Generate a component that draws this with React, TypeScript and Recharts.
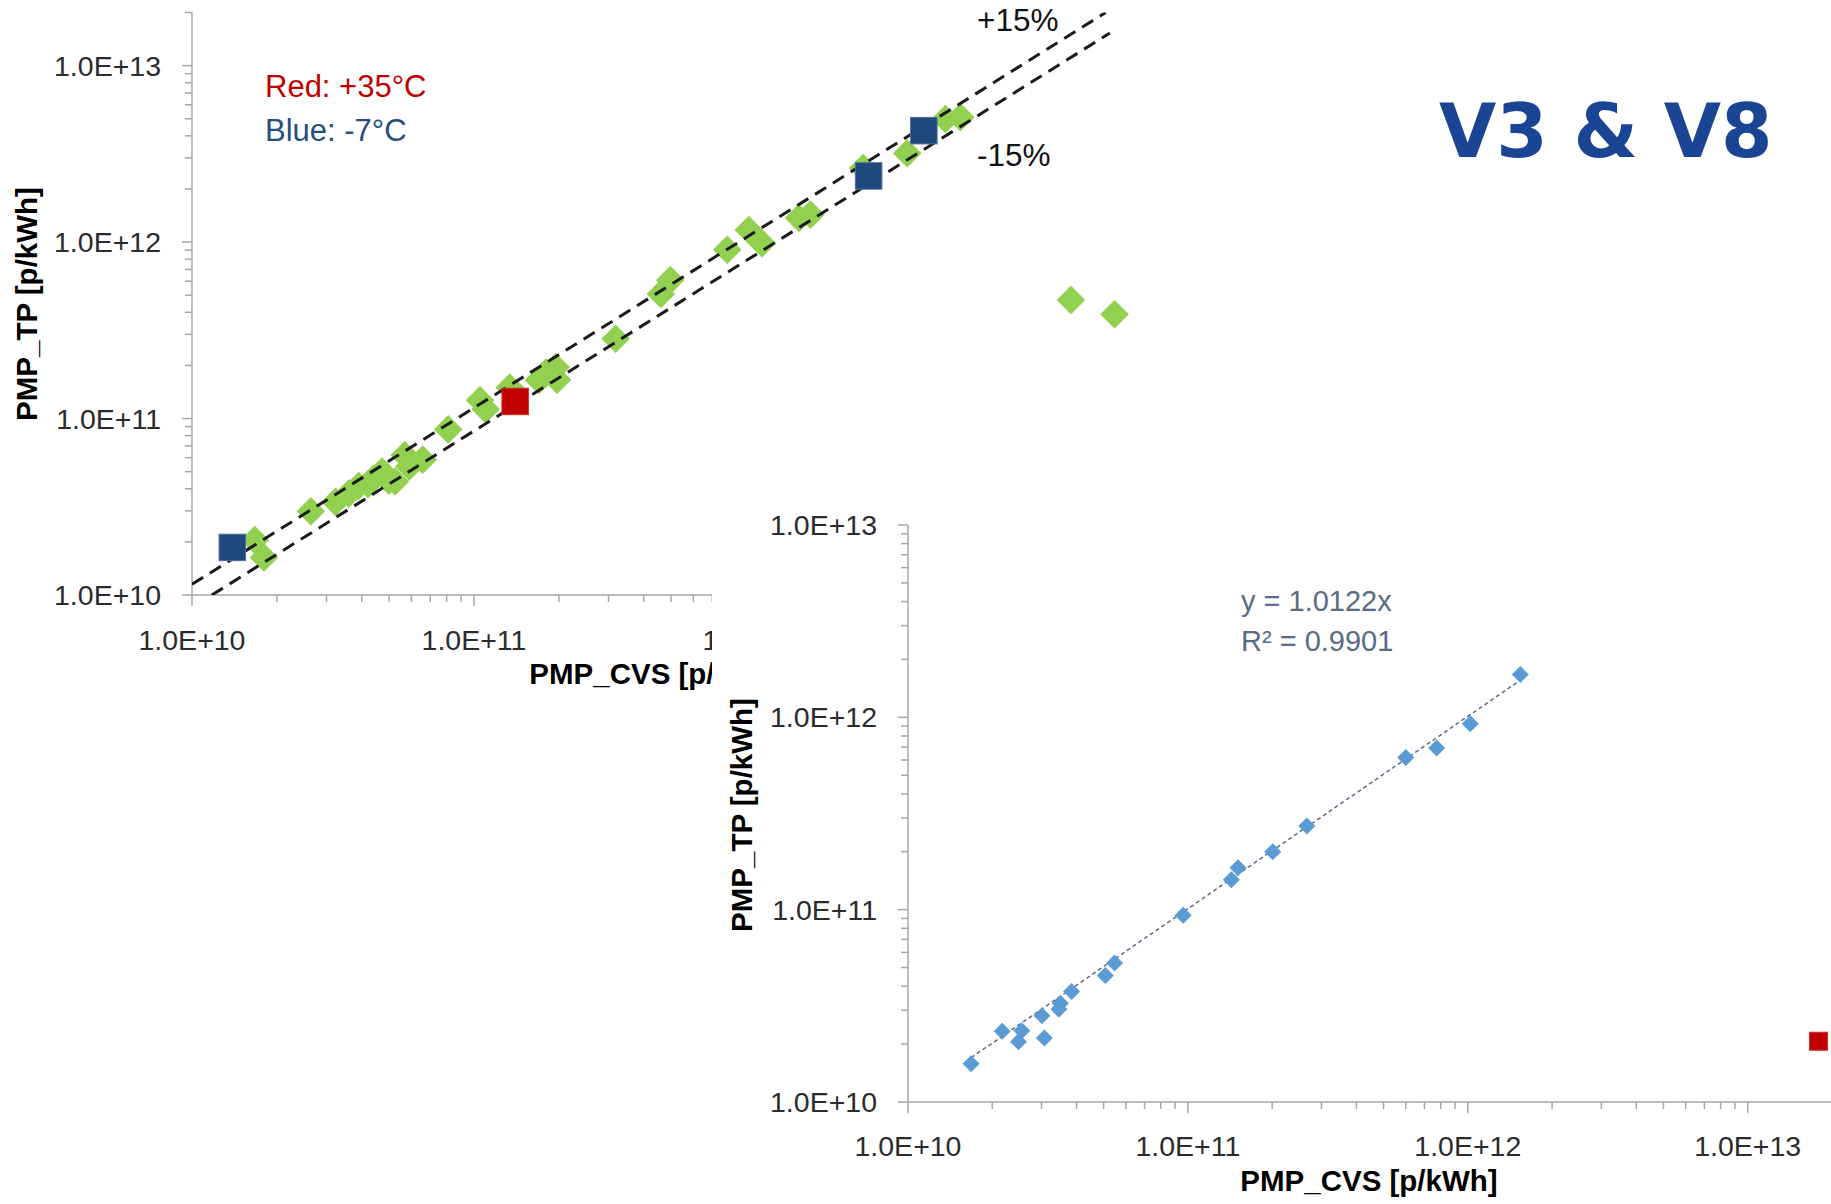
import React from "react";
import { ScatterChart, Scatter, XAxis, YAxis } from "recharts";

// ---- chart 1 (large, top-left) ----
const greenPoints = [
  { x: 1.67e10, y: 2.05e10 }, { x: 1.8e10, y: 1.63e10 }, { x: 2.64e10, y: 2.98e10 },
  { x: 3.23e10, y: 3.37e10 }, { x: 3.6e10, y: 3.76e10 }, { x: 3.9e10, y: 4.15e10 },
  { x: 4.21e10, y: 4.24e10 }, { x: 4.4e10, y: 4.56e10 }, { x: 4.72e10, y: 5.0e10 },
  { x: 4.99e10, y: 4.45e10 }, { x: 5.25e10, y: 4.4e10 }, { x: 5.68e10, y: 6.2e10 },
  { x: 5.9e10, y: 5.35e10 }, { x: 6.58e10, y: 5.85e10 }, { x: 8.1e10, y: 8.68e10 },
  { x: 1.05e11, y: 1.27e11 }, { x: 1.1e11, y: 1.13e11 }, { x: 1.34e11, y: 1.5e11 },
  { x: 1.7e11, y: 1.65e11 }, { x: 1.8e11, y: 1.82e11 }, { x: 1.95e11, y: 1.95e11 },
  { x: 1.97e11, y: 1.66e11 }, { x: 3.18e11, y: 2.83e11 }, { x: 4.6e11, y: 5.08e11 },
  { x: 4.97e11, y: 6.09e11 }, { x: 7.91e11, y: 9.04e11 }, { x: 9.43e11, y: 1.17e12 },
  { x: 1.05e12, y: 9.86e11 }, { x: 1.42e12, y: 1.37e12 }, { x: 1.56e12, y: 1.43e12 },
  { x: 2.4e12, y: 2.63e12 }, { x: 3.44e12, y: 3.19e12 }, { x: 4.7e12, y: 4.98e12 },
  { x: 5.31e12, y: 5.1e12 }, { x: 1.31e13, y: 4.7e11 }, { x: 1.87e13, y: 3.9e11 },
];
const blueSquares = [
  { x: 1.39e10, y: 1.86e10 }, { x: 2.51e12, y: 2.37e12 }, { x: 3.94e12, y: 4.28e12 },
];
const redSquares = [{ x: 1.4e11, y: 1.25e11 }];
const plus15Line = [{ x: 1.0e10, y: 1.15e10 }, { x: 1.739e13, y: 2.0e13 }];
const minus15Line = [{ x: 1.176e10, y: 1.0e10 }, { x: 1.8e13, y: 1.53e13 }];

// ---- chart 2 (inset, bottom-right) ----
const insetPoints = [
  { x: 1.68e10, y: 1.58e10 }, { x: 2.17e10, y: 2.33e10 }, { x: 2.48e10, y: 2.06e10 },
  { x: 2.55e10, y: 2.35e10 }, { x: 3.07e10, y: 2.15e10 }, { x: 3.01e10, y: 2.81e10 },
  { x: 3.46e10, y: 3.04e10 }, { x: 3.5e10, y: 3.26e10 }, { x: 3.84e10, y: 3.75e10 },
  { x: 5.07e10, y: 4.55e10 }, { x: 5.47e10, y: 5.28e10 }, { x: 9.62e10, y: 9.36e10 },
  { x: 1.43e11, y: 1.43e11 }, { x: 1.51e11, y: 1.65e11 }, { x: 2.01e11, y: 2.0e11 },
  { x: 2.66e11, y: 2.72e11 }, { x: 6.0e11, y: 6.18e11 }, { x: 7.74e11, y: 6.93e11 },
  { x: 1.02e12, y: 9.27e11 }, { x: 1.54e12, y: 1.67e12 },
];
const insetRed = [{ x: 1.79e13, y: 2.07e10 }];
const trendLine = [{ x: 1.68e10, y: 1.7e10 }, { x: 1.54e12, y: 1.559e12 }];

// tick values
const mantissas = [1, 2, 3, 4, 5, 6, 7, 8, 9];
const decades = [1e10, 1e11, 1e12];
const baseTicks = decades.flatMap((d) => mantissas.map((m) => m * d));
const ticksX1 = baseTicks.concat([1e13, 2e13, 3e13, 4e13, 5e13]);
const ticksTo2e13 = baseTicks.concat([1e13, 2e13]);
const ticksTo1e13 = baseTicks.concat([1e13]);

const AXIS = "#A6A6A6";
const TICK_TEXT = "#2b2b2b";
const FONT = "'Liberation Sans', Arial, sans-serif";

const isMajor = (v: number) => Math.abs(Math.log10(v) - Math.round(Math.log10(v))) < 1e-6;
const fmt = (v: number) => `1.0E+${Math.round(Math.log10(v))}`;

const makeXTick = (labelDy: number) => (props: any) => {
  const { x, y, payload } = props;
  const major = isMajor(payload.value);
  return (
    <g>
      <line x1={x} x2={x} y1={y} y2={y + (major ? 11 : 7)} stroke={AXIS} strokeWidth={1.5} />
      {major && (
        <text x={x} y={y + labelDy} textAnchor="middle" fontSize={28.5} fill={TICK_TEXT} fontFamily={FONT}>
          {fmt(payload.value)}
        </text>
      )}
    </g>
  );
};

const makeYTick = (labelDx: number) => (props: any) => {
  const { x, y, payload } = props;
  const major = isMajor(payload.value);
  return (
    <g>
      <line x1={x - (major ? 10 : 7)} x2={x} y1={y} y2={y} stroke={AXIS} strokeWidth={1.5} />
      {major && (
        <text x={x - labelDx} y={y + 10} textAnchor="end" fontSize={28.5} fill={TICK_TEXT} fontFamily={FONT}>
          {fmt(payload.value)}
        </text>
      )}
    </g>
  );
};

const diamond = (r: number, fill: string) => (props: any) => {
  const { cx, cy } = props;
  return <path d={`M${cx},${cy - r}L${cx + r},${cy}L${cx},${cy + r}L${cx - r},${cy}Z`} fill={fill} />;
};

const square = (s: number, fill: string, stroke: string) => (props: any) => {
  const { cx, cy } = props;
  return <rect x={cx - s / 2} y={cy - s / 2} width={s} height={s} fill={fill} stroke={stroke} strokeWidth={1} />;
};

const noDot = () => <g />;

function MainChart() {
  // x range runs past the inset's left edge; the inset box covers the rest of the axis
  return (
    <ScatterChart width={1245} height={720} margin={{ top: 12.5, right: 10, left: 0, bottom: 0 }}>
      <XAxis
        dataKey="x"
        type="number"
        scale="log"
        domain={[1e10, 5e13]}
        allowDataOverflow
        ticks={ticksX1}
        interval={0}
        tickSize={0}
        tickMargin={0}
        tickLine={false}
        axisLine={{ stroke: AXIS, strokeWidth: 1.5 }}
        tick={makeXTick(55)}
        height={125}
      />
      <YAxis
        dataKey="y"
        type="number"
        scale="log"
        domain={[1e10, 2e13]}
        allowDataOverflow
        ticks={ticksTo2e13}
        interval={0}
        tickSize={0}
        tickMargin={0}
        tickLine={false}
        axisLine={{ stroke: AXIS, strokeWidth: 1.5 }}
        tick={makeYTick(31)}
        width={192}
      />
      <Scatter data={greenPoints} shape={diamond(14.3, "#92D050")} isAnimationActive={false} />
      <Scatter
        data={plus15Line}
        line={{ stroke: "#1a1a1a", strokeWidth: 3, strokeDasharray: "13 8" }}
        shape={noDot}
        isAnimationActive={false}
      />
      <Scatter
        data={minus15Line}
        line={{ stroke: "#1a1a1a", strokeWidth: 3, strokeDasharray: "13 8" }}
        shape={noDot}
        isAnimationActive={false}
      />
      <Scatter data={blueSquares} shape={square(26.5, "#1F497D", "#4F6F99")} isAnimationActive={false} />
      <Scatter data={redSquares} shape={square(26.5, "#C00000", "#D03030")} isAnimationActive={false} />
    </ScatterChart>
  );
}

function InsetChart() {
  return (
    <ScatterChart width={1122} height={724} margin={{ top: 45, right: 2, left: 0, bottom: 0 }}>
      <XAxis
        dataKey="x"
        type="number"
        scale="log"
        domain={[1e10, 2e13]}
        allowDataOverflow
        ticks={ticksTo2e13}
        interval={0}
        tickSize={0}
        tickMargin={0}
        tickLine={false}
        axisLine={{ stroke: AXIS, strokeWidth: 1.5 }}
        tick={makeXTick(54)}
        height={102}
      />
      <YAxis
        dataKey="y"
        type="number"
        scale="log"
        domain={[1e10, 1e13]}
        allowDataOverflow
        ticks={ticksTo1e13}
        interval={0}
        tickSize={0}
        tickMargin={0}
        tickLine={false}
        axisLine={{ stroke: AXIS, strokeWidth: 1.5 }}
        tick={makeYTick(31)}
        width={196}
      />
      <Scatter
        data={trendLine}
        line={{ stroke: "#5A6B85", strokeWidth: 1.5, strokeDasharray: "4 3" }}
        shape={noDot}
        isAnimationActive={false}
      />
      <Scatter data={insetPoints} shape={diamond(8.5, "#5B9BD5")} isAnimationActive={false} />
      <Scatter data={insetRed} shape={square(18, "#C00000", "#D03030")} isAnimationActive={false} />
    </ScatterChart>
  );
}

export default function App() {
  return (
    <div
      style={{
        position: "absolute",
        left: 0,
        top: 0,
        width: 1831,
        height: 1204,
        overflow: "hidden",
        background: "#fff",
        fontFamily: FONT,
      }}
    >
      <div style={{ position: "absolute", left: 0, top: 0 }}>
        <MainChart />
      </div>
      <svg style={{ position: "absolute", left: 0, top: 0 }} width={1831} height={720}>
        <text transform="translate(37, 304) rotate(-90)" textAnchor="middle" fontSize={29.5} fontWeight="bold" fill="#000" fontFamily={FONT}>
          PMP_TP [p/kWh]
        </text>
        <text x={658} y={684} textAnchor="middle" fontSize={29.5} fontWeight="bold" fill="#000" fontFamily={FONT}>
          PMP_CVS [p/kWh]
        </text>
        <text x={265} y={97} fontSize={31} fill="#C00000" fontFamily={FONT}>Red: +35°C</text>
        <text x={265} y={141} fontSize={31} fill="#254E7E" fontFamily={FONT}>Blue: -7°C</text>
        <text x={977} y={31} fontSize={31.5} fill="#111" fontFamily={FONT}>+15%</text>
        <text x={977} y={166} fontSize={31.5} fill="#111" fontFamily={FONT}>-15%</text>
      </svg>
      <div style={{ position: "absolute", left: 712, top: 480, width: 1122, height: 724, background: "#fff" }}>
        <InsetChart />
        <svg style={{ position: "absolute", left: 0, top: 0 }} width={1122} height={724}>
          <text transform="translate(39.5, 335) rotate(-90)" textAnchor="middle" fontSize={29.5} fontWeight="bold" fill="#000" fontFamily={FONT}>
            PMP_TP [p/kWh]
          </text>
          <text x={657} y={711} textAnchor="middle" fontSize={29.5} fontWeight="bold" fill="#000" fontFamily={FONT}>
            PMP_CVS [p/kWh]
          </text>
          <text x={529} y={131} fontSize={29} fill="#5A6B85" fontFamily={FONT}>y = 1.0122x</text>
          <text x={529} y={170.5} fontSize={29} fill="#5A6B85" fontFamily={FONT}>R² = 0.9901</text>
        </svg>
      </div>
      <svg style={{ position: "absolute", left: 0, top: 0 }} width={1831} height={200}>
        <text x={1439} y={157} fontSize={74} fontWeight="bold" fill="#1A4494" fontFamily="'DejaVu Sans', Verdana, sans-serif">
          V3 &amp; V8
        </text>
      </svg>
    </div>
  );
}
